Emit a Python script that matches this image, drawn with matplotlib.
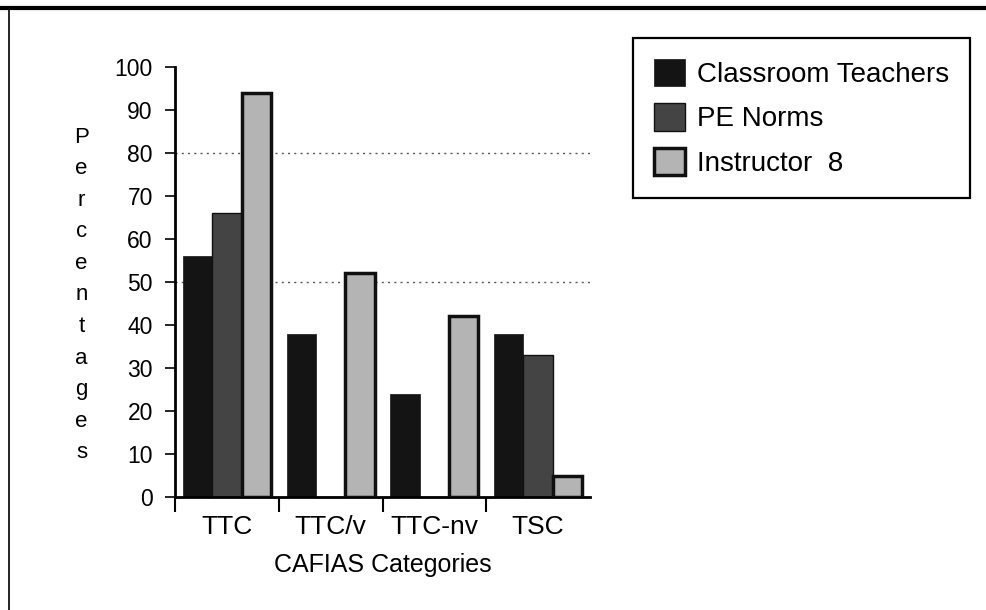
import matplotlib
matplotlib.use('Agg')
import matplotlib.pyplot as plt
from matplotlib.lines import Line2D
import numpy as np

plt.rcParams['font.family'] = ['Liberation Sans', 'DejaVu Sans']

# CAFIAS category percentages
categorias = ['TTC', 'TTC/v', 'TTC-nv', 'TSC']
classroom_teachers = [56, 38, 24, 38]
pe_norms = [66, 0, 0, 33]
instructor_8 = [94, 52, 42, 5]
series_labels = ['Classroom Teachers', 'PE Norms', 'Instructor  8']

fig = plt.figure(figsize=(9.87, 6.10), dpi=100)
ax = fig.add_axes([0.1773, 0.1852, 0.4205, 0.7049])

x = np.arange(len(categorias))
w = 0.2833

# lineas punteadas de referencia
for nivel in (80, 50):
    ax.axhline(nivel, color='0.35', lw=1.0, ls=(0, (1.5, 3)), zorder=0)

b1 = ax.bar(x - w, classroom_teachers, w, color='#141414', edgecolor='#141414',
            linewidth=0.5, label=series_labels[0], zorder=2)
b2 = ax.bar(x, pe_norms, w, color='#444444', edgecolor='#111111',
            linewidth=1.0, label=series_labels[1], zorder=2)
b3 = ax.bar(x + w, instructor_8, w, color='#b4b4b4', edgecolor='#101010',
            linewidth=2.5, label=series_labels[2], zorder=3)

ax.set_xlim(-0.5, 3.5)
ax.set_ylim(0, 100)
ax.set_yticks(range(0, 101, 10))
ax.tick_params(axis='y', direction='out', length=7, width=1.2, pad=9,
               labelsize=16.5)

# etiquetas centradas en cada grupo, marcas entre grupos
ax.set_xticks(x)
ax.set_xticklabels(categorias, fontsize=19)
ax.set_xticks([-0.5, 0.5, 1.5, 2.5], minor=True)
ax.tick_params(axis='x', which='major', length=0, pad=13)
ax.tick_params(axis='x', which='minor', direction='out', length=11, width=1.5)

for lado in ('top', 'right'):
    ax.spines[lado].set_visible(False)
ax.spines['left'].set_linewidth(2.0)
ax.spines['bottom'].set_linewidth(2.0)

ax.set_xlabel('CAFIAS Categories', fontsize=18, labelpad=10)
ax.set_ylabel('\n'.join('Percentages'), rotation=0, fontsize=16,
              linespacing=1.66, va='center', labelpad=60)
ax.yaxis.set_label_coords(-0.225, 0.47)

leg = fig.legend(handles=[b1, b2, b3], loc='upper left',
                 bbox_to_anchor=(0.641, 0.938), fontsize=20,
                 frameon=True, fancybox=False, framealpha=1,
                 edgecolor='black', handlelength=1.15, handleheight=1.15,
                 handletextpad=0.4, labelspacing=0.55, borderpad=0.75,
                 borderaxespad=0)
leg.get_frame().set_linewidth(1.6)

# marco de la hoja
fig.add_artist(Line2D([0, 1], [0.987, 0.987], transform=fig.transFigure,
                      color='black', lw=3))
fig.add_artist(Line2D([0.009, 0.009], [0, 0.987], transform=fig.transFigure,
                      color='black', lw=1.2))

fig.savefig('out.png', dpi=100)
